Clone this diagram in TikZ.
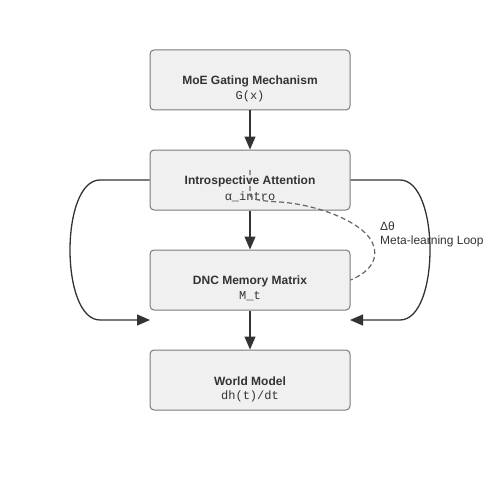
\documentclass[tikz,border=0pt]{standalone}
\usepackage{fontspec}
\setmainfont{Liberation Sans}
\setmonofont{Liberation Mono}
\usetikzlibrary{arrows.meta,calc}
\definecolor{boxfill}{HTML}{F0F0F0}
\definecolor{boxline}{HTML}{7A7A7A}
\definecolor{ink}{HTML}{333333}
\definecolor{dashc}{HTML}{666666}
\tikzset{
  box/.style={draw=boxline, fill=boxfill, rounded corners=4pt, line width=1pt,
    minimum width=200pt, minimum height=60pt, inner sep=0pt},
  title/.style={font=\fontsize{12}{14}\selectfont\bfseries, text=ink, inner sep=0pt},
  sub/.style={font=\fontsize{12}{14}\selectfont\ttfamily, text=ink, inner sep=0pt},
  lbl/.style={font=\fontsize{12}{14}\selectfont, text=ink, inner sep=0pt, anchor=west},
  flow/.style={draw=ink, line width=1.3pt, -{Triangle[length=13pt,width=11pt]}},
  loop/.style={draw=ink, line width=1.3pt, -{Triangle[length=13pt,width=11pt]}},
  meta/.style={draw=dashc, line width=1.2pt, dash pattern=on 5pt off 3pt}
}
\begin{document}
\begin{tikzpicture}[x=1pt,y=-1pt]
\useasboundingbox (0,0) rectangle (500,500);
\node[box] (b1) at (250,80) {};
\node[box] (b2) at (250,180) {};
\node[box] (b3) at (250,280) {};
\node[box] (b4) at (250,380) {};
\node[title] (t1) at (250,81.5) {MoE Gating Mechanism};
\node[sub] (s1) at (250,96.5) {G(x)};
\node[title] (t2) at (250,181.5) {Introspective Attention};
\node[sub] (s2) at (250,196.5) {α\_intro};
\node[title] (t3) at (250,281.5) {DNC Memory Matrix};
\node[sub] (s3) at (250,296.5) {M\_t};
\node[title] (t4) at (250,381.5) {World Model};
\node[sub] (s4) at (250,396.5) {dh(t)/dt};
\draw[flow] (b1.south) -- (b2.north);
\draw[flow] (b2.south) -- (b3.north);
\draw[flow] (b3.south) -- (b4.north);
\coordinate (lend) at (150,320);
\coordinate (rend) at (350,320);
\draw[loop] (b2.west) -- (100,180) .. controls (60,180) and (60,320) .. (100,320) -- (lend);
\draw[loop] (b2.east) -- (400,180) .. controls (440,180) and (440,320) .. (400,320) -- (rend);
\coordinate (ms) at (250,170);
\coordinate (me) at (b3.east |- 0,280);
\draw[meta] (ms) -- (250,195) .. controls (251,200) and (262,201) .. (280,202) .. controls (320,205) and (360,222) .. (371,240) .. controls (381,258) and (370,272) .. (me);
\node[lbl] (d) at (380,226) {Δθ};
\node[lbl] (ml) at (380,241) {Meta-learning Loop};
\end{tikzpicture}
\end{document}
